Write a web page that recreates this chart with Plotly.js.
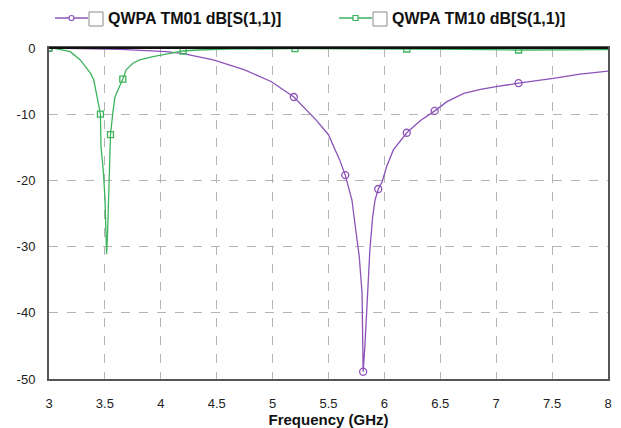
<!DOCTYPE html>
<html>
<head>
<meta charset="utf-8">
<script src="https://cdn.plot.ly/plotly-3.0.1.min.js"></script>
<style>html,body{margin:0;padding:0;background:#fff;}#chart{width:621px;height:428px;}</style>
</head>
<body>
<div id="chart"></div>
<script>
// ---- data ----
const seriesNames = ["QWPA TM01 dB[S(1,1)]", "QWPA TM10 dB[S(1,1)]"];

const tm01Freq = [3, 3.3, 3.64, 4.05, 4.2, 4.47, 4.75, 4.99, 5.19, 5.39, 5.5, 5.56, 5.6, 5.65, 5.71, 5.74, 5.775, 5.8, 5.805, 5.81, 5.827, 5.857, 5.87, 5.895, 5.916, 5.945, 5.98, 6.02, 6.08, 6.2, 6.32, 6.45, 6.56, 6.71, 6.86, 7.0, 7.2, 7.51, 7.75, 8.0];
const tm01dB   = [0, -0.08, -0.2, -0.55, -0.85, -1.8, -3.3, -5.1, -7.4, -10.9, -13.1, -15.4, -16.9, -19.2, -23, -27, -31.5, -37, -44.6, -48.9, -44.6, -35.5, -30.5, -25.5, -23, -21.3, -20.2, -17.9, -15.4, -12.8, -11, -9.5, -8.1, -6.85, -6.25, -5.85, -5.3, -4.6, -3.95, -3.5];
const tm01MarkFreq = [3, 5.19, 5.65, 5.81, 5.945, 6.2, 6.45, 7.2];
const tm01MarkdB   = [0, -7.4, -19.2, -48.9, -21.3, -12.8, -9.5, -5.3];

const tm10Freq = [3, 3.05, 3.19, 3.28, 3.37, 3.4, 3.43, 3.46, 3.465, 3.485, 3.5, 3.51, 3.515, 3.525, 3.537, 3.545, 3.55, 3.57, 3.59, 3.66, 3.69, 3.75, 3.81, 3.93, 4.02, 4.14, 4.2, 4.32, 4.6, 5.2, 5.7, 6.2, 6.7, 7.2, 7.6, 8.0];
const tm10dB   = [0, -0.05, -0.55, -1.8, -3.8, -4.8, -7.4, -10, -14.9, -18.4, -22.5, -28, -31.1, -27.5, -19.4, -15.9, -13.1, -9.9, -7.4, -4.7, -3.3, -2.3, -1.8, -1.3, -1.05, -0.7, -0.45, -0.3, -0.18, -0.1, -0.1, -0.15, -0.2, -0.3, -0.25, -0.25];
const tm10MarkFreq = [3, 3.46, 3.55, 3.66, 4.2, 5.2, 6.2, 7.2];
const tm10MarkdB   = [0, -10, -13.1, -4.7, -0.45, -0.1, -0.15, -0.3];

const xTicks = [3, 3.5, 4, 4.5, 5, 5.5, 6, 6.5, 7, 7.5, 8];
const xTickText = ["3", "3.5", "4", "4.5", "5", "5.5", "6", "6.5", "7", "7.5", "8"];
const yTicks = [-50, -40, -30, -20, -10, 0];
const yTickText = ["-50", "-40", "-30", "-20", "-10", "0"];

// ---- styles ----
const purple = "#8c52b8";
const green = "#3db35c";
const font = "Liberation Sans, Arial, sans-serif";

const traces = [
  {x: tm01Freq, y: tm01dB, mode: "lines", line: {color: purple, width: 1.3}, showlegend: false, hoverinfo: "skip"},
  {x: tm01MarkFreq, y: tm01MarkdB, mode: "markers", marker: {symbol: "circle-open", size: 7, color: purple, line: {width: 1.3, color: purple}}, showlegend: false},
  {x: tm10Freq, y: tm10dB, mode: "lines", line: {color: green, width: 1.3}, showlegend: false, hoverinfo: "skip"},
  {x: tm10MarkFreq, y: tm10MarkdB, mode: "markers", marker: {symbol: "square-open", size: 6, color: green, line: {width: 1.3, color: green}}, showlegend: false}
];

// pixel helpers for the hand-made legend (plot area 49..608 x, 48..379 y)
const L = 49, R = 608, T = 48, B = 379;
const px = v => (v - L) / (R - L);
const py = v => (B - v) / (B - T);

function legendItem(x0, color, symbolShape, name) {
  const yc = 18;
  const shapes = [
    {type: "line", xref: "paper", yref: "paper", x0: px(x0), x1: px(x0 + 33), y0: py(yc), y1: py(yc), line: {color: color, width: 1.3}},
    {type: symbolShape, xref: "paper", yref: "paper", x0: px(x0 + 14), x1: px(x0 + 19), y0: py(yc - 2.5), y1: py(yc + 2.5), line: {color: color, width: 1.2}, fillcolor: "white"},
    {type: "rect", xref: "paper", yref: "paper", x0: px(x0 + 34), x1: px(x0 + 48), y0: py(12), y1: py(26), line: {color: "#8a8a8a", width: 1}, fillcolor: "white"}
  ];
  const ann = {xref: "paper", yref: "paper", x: px(x0 + 51), y: py(19), xanchor: "left", yanchor: "middle", showarrow: false,
    text: "<b>" + name + "</b>", font: {family: font, size: 16, color: "#111"}};
  return {shapes, ann};
}
const l1 = legendItem(55, purple, "circle", seriesNames[0]);
const l2 = legendItem(339, green, "rect", seriesNames[1]);

const layout = {
  width: 621, height: 428,
  margin: {l: L, r: 621 - R, t: T, b: 428 - B},
  paper_bgcolor: "white", plot_bgcolor: "white",
  showlegend: false,
  font: {family: font, size: 13, color: "#222"},
  xaxis: {
    range: [3, 8], tickvals: xTicks, ticktext: xTickText,
    showgrid: true, gridcolor: "#b4b4b4", griddash: "dash", gridwidth: 1,
    zeroline: false, showline: true, linecolor: "#555", linewidth: 2, mirror: true,
    ticks: "", ticklabelstandoff: 11, tickfont: {family: font, size: 13, color: "#222"},
    title: {text: "<b>Frequency (GHz)</b>", font: {family: font, size: 15, color: "#111"}, standoff: 5},
    fixedrange: true
  },
  yaxis: {
    range: [-50, 0], tickvals: yTicks, ticktext: yTickText,
    showgrid: true, gridcolor: "#b4b4b4", griddash: "dash", gridwidth: 1,
    zeroline: false, showline: true, linecolor: "#555", linewidth: 2, mirror: true,
    ticks: "", ticklabelstandoff: 9, tickfont: {family: font, size: 13, color: "#222"},
    fixedrange: true
  },
  shapes: [...l1.shapes, ...l2.shapes,
    {type: "line", xref: "paper", yref: "paper", x0: 0, x1: 1, y0: 1, y1: 1, line: {color: "#111", width: 2}}],
  annotations: [l1.ann, l2.ann]
};

Plotly.newPlot("chart", traces, layout, {displayModeBar: false, staticPlot: true});
</script>
</body>
</html>
